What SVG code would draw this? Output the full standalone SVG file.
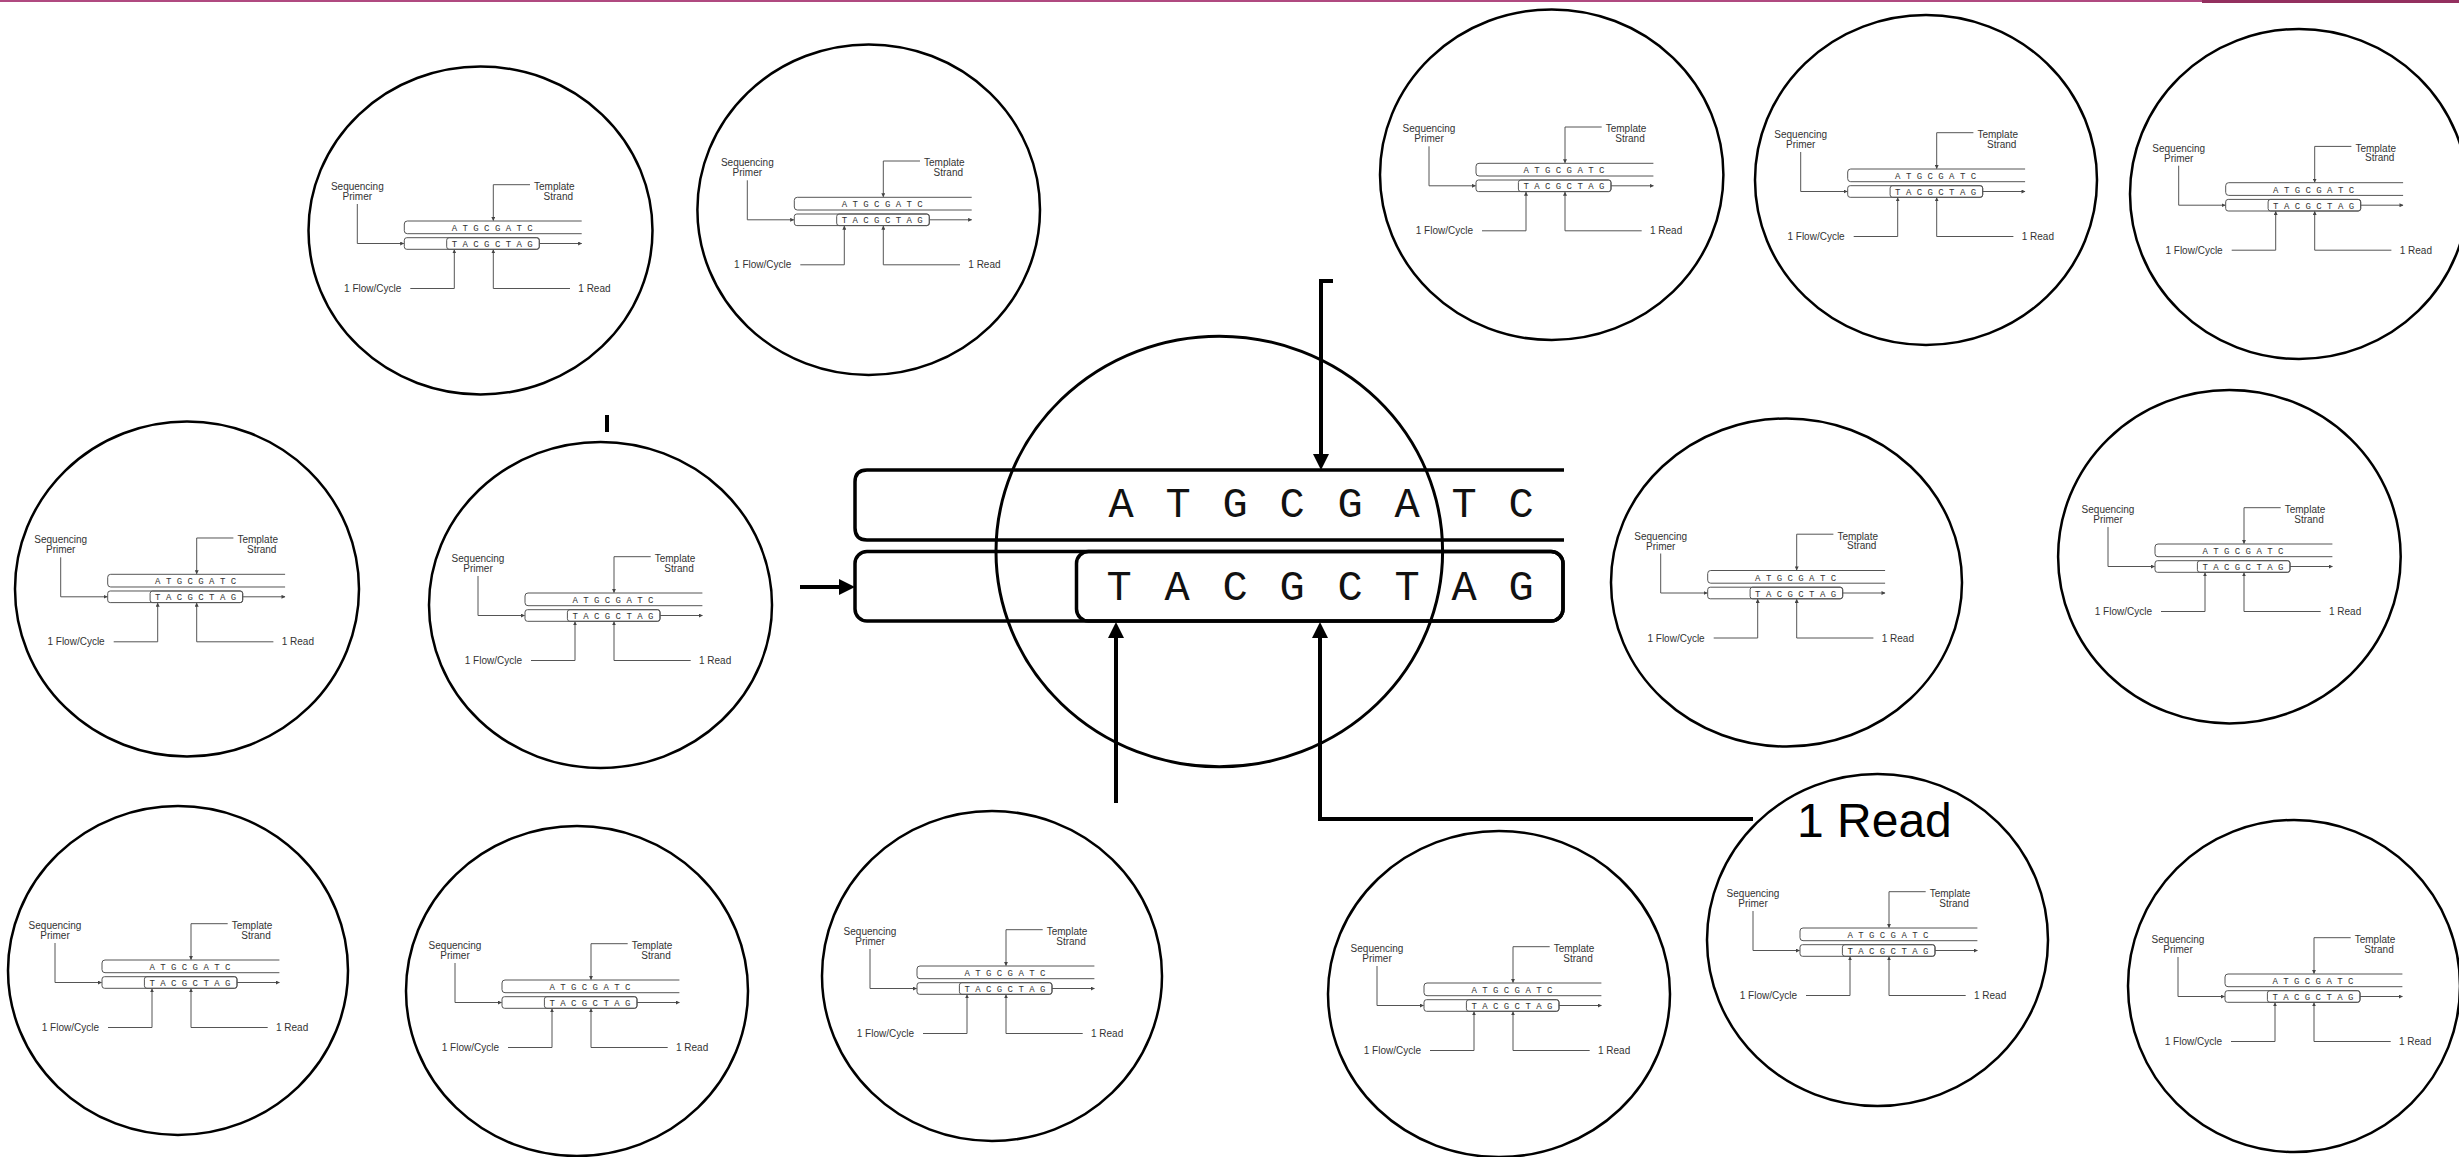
<svg xmlns="http://www.w3.org/2000/svg" xmlns:xlink="http://www.w3.org/1999/xlink" width="2459" height="1157" viewBox="0 0 2459 1157">
<style>
.ring{fill:none;stroke:#000;stroke-width:2.5}
.ml{fill:none;stroke:#555;stroke-width:1}
.mb{fill:none;stroke:#555;stroke-width:1}
.mt{font-family:"Liberation Sans",Arial,sans-serif;font-size:10px;fill:#333}
.mm{font-family:"Liberation Mono","Courier New",monospace;font-size:9px;fill:#333}
.bb{fill:none;stroke:#000;stroke-width:3.5}
.bm{font-family:"Liberation Mono","Courier New",monospace;font-size:42px;fill:#111;text-anchor:middle}
.ba{fill:none;stroke:#000;stroke-width:4}
</style>
<defs>
<marker id="ahs" viewBox="0 0 10 10" refX="9" refY="5" markerWidth="4" markerHeight="4" markerUnits="userSpaceOnUse" orient="auto"><path d="M0,0 L10,5 L0,10 z" fill="#444"/></marker>
<marker id="ahb" viewBox="0 0 10 10" refX="5" refY="5" markerWidth="16" markerHeight="16" markerUnits="userSpaceOnUse" orient="auto"><path d="M0,0 L10,5 L0,10 z" fill="#000"/></marker>
<g id="mini">
<path class="mb" d="M177.4,0 H3 Q0,0 0,3 V9.7 Q0,12.7 3,12.7 H177.4"/>
<rect class="mb" x="0" y="16.7" width="135" height="11.6" rx="2.5"/>
<rect class="mb" x="42.4" y="16.7" width="92.6" height="11.6" rx="2.5"/>
<line class="ml" x1="135" y1="22.5" x2="177.4" y2="22.5" marker-end="url(#ahs)"/>
<text class="mm" x="47.4" y="10">A T G C G A T C</text>
<text class="mm" x="47.4" y="26">T A C G C T A G</text>
<text class="mt" x="-47" y="-31" text-anchor="middle">Sequencing</text>
<text class="mt" x="-47" y="-21" text-anchor="middle">Primer</text>
<path class="ml" d="M-47,-17 V22.5 H-0.5" marker-end="url(#ahs)"/>
<path class="ml" d="M125.7,-36.3 H89 V-0.5" marker-end="url(#ahs)"/>
<text class="mt" x="150" y="-31" text-anchor="middle">Template</text>
<text class="mt" x="154" y="-21.5" text-anchor="middle">Strand</text>
<text class="mt" x="-3" y="71" text-anchor="end" font-size="9">1 Flow/Cycle</text>
<path class="ml" d="M6,67.5 H50 V28.8" marker-end="url(#ahs)"/>
<path class="ml" d="M165.7,67.5 H89 V28.8" marker-end="url(#ahs)"/>
<text class="mt" x="174" y="71">1 Read</text>
</g>
</defs>
<rect x="0" y="0" width="2459" height="1157" fill="#fff"/>
<rect x="0" y="0" width="2202" height="2" fill="#b04a80"/>
<rect x="2202" y="0" width="257" height="3" fill="#93305f"/>

<g id="node-1"><ellipse class="ring" cx="480.5" cy="230.5" rx="172" ry="164"/><use xlink:href="#mini" href="#mini" x="404.3" y="221"/></g>
<g id="node-2"><ellipse class="ring" cx="868.7" cy="209.7" rx="171.3" ry="165.3"/><use xlink:href="#mini" href="#mini" x="794.3" y="197.3"/></g>
<g id="node-3"><ellipse class="ring" cx="1551.7" cy="174.7" rx="171.7" ry="165.3"/><use xlink:href="#mini" href="#mini" x="1476" y="163.3"/></g>
<g id="node-4"><ellipse class="ring" cx="1926" cy="180" rx="171" ry="165"/><use xlink:href="#mini" href="#mini" x="1847.7" y="169"/></g>
<g id="node-5"><ellipse class="ring" cx="2299" cy="194" rx="169" ry="165"/><use xlink:href="#mini" href="#mini" x="2225.7" y="182.7"/></g>
<g id="node-6"><ellipse class="ring" cx="187" cy="589" rx="172" ry="167.5"/><use xlink:href="#mini" href="#mini" x="107.7" y="574.3"/></g>
<g id="node-7"><ellipse class="ring" cx="600.5" cy="605" rx="171.5" ry="163"/><use xlink:href="#mini" href="#mini" x="525" y="593"/></g>
<g id="node-8"><ellipse class="ring" cx="1786.5" cy="582.5" rx="175.5" ry="164"/><use xlink:href="#mini" href="#mini" x="1707.7" y="570.5"/></g>
<g id="node-9"><ellipse class="ring" cx="2229.4" cy="556.7" rx="171.3" ry="166.7"/><use xlink:href="#mini" href="#mini" x="2155" y="544"/></g>
<g id="node-10"><ellipse class="ring" cx="178" cy="970.5" rx="170" ry="164.5"/><use xlink:href="#mini" href="#mini" x="102" y="960"/></g>
<g id="node-11"><ellipse class="ring" cx="577" cy="991" rx="171" ry="165"/><use xlink:href="#mini" href="#mini" x="502" y="980"/></g>
<g id="node-12"><ellipse class="ring" cx="992" cy="976" rx="170" ry="165"/><use xlink:href="#mini" href="#mini" x="917" y="966"/></g>
<g id="node-13"><ellipse class="ring" cx="1499" cy="994" rx="171" ry="163"/><use xlink:href="#mini" href="#mini" x="1424" y="983"/></g>
<g id="node-14"><ellipse class="ring" cx="1877.5" cy="940" rx="170.5" ry="166"/><use xlink:href="#mini" href="#mini" x="1800" y="928"/></g>
<g id="node-15"><ellipse class="ring" cx="2294" cy="986" rx="166" ry="166"/><use xlink:href="#mini" href="#mini" x="2225" y="974"/></g>

<g id="node-center">
<path class="bb" d="M1564,470 H867 Q855,470 855,482 V528 Q855,540 867,540 H1564"/>
<rect class="bb" x="855" y="551.5" width="708" height="69.5" rx="12"/>
<rect class="bb" x="1076.5" y="551.5" width="486.5" height="69.5" rx="12"/>
<text class="bm" x="1121 1178 1235 1292 1350 1407 1464 1521" y="517">ATGCGATC</text>
<text class="bm" x="1119 1177 1235 1292 1350 1407 1464 1521" y="600">TACGCTAG</text>
<ellipse cx="1219.3" cy="551.5" rx="223.3" ry="215.3" fill="none" stroke="#000" stroke-width="3"/>
</g>

<g id="connectors">
<path class="ba" d="M1333,281 H1321 V462" marker-end="url(#ahb)"/>
<path class="ba" d="M1116,803 V630" marker-end="url(#ahb)"/>
<path class="ba" d="M1753,819 H1320 V630" marker-end="url(#ahb)"/>
<path class="ba" d="M800,587 H847" marker-end="url(#ahb)"/>
<line x1="607" y1="415" x2="607" y2="432" stroke="#000" stroke-width="4"/>
<text x="1797" y="837" font-family="'Liberation Sans',Arial,sans-serif" font-size="48" fill="#000">1 Read</text>
</g>
</svg>
